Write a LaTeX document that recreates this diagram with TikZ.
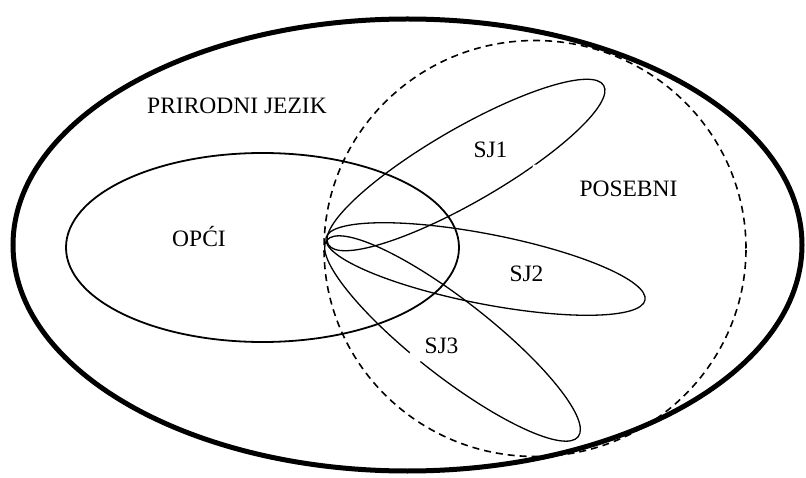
\documentclass[tikz,border=0pt]{standalone}
\usepackage{fontspec}
\setmainfont{Liberation Serif}
\begin{document}
\begin{tikzpicture}[x=1pt,y=1pt,
  lbl/.style={anchor=base,inner sep=0pt,font=\fontsize{23.5}{28}\selectfont},
  outerline/.style={line width=5pt},
  dashline/.style={line width=1.6pt,dash pattern=on 7pt off 5pt},
  setline/.style={line width=1.8pt},
  petal/.style={line width=1.3pt}]
\useasboundingbox (0,0) rectangle (806,477);
% outer ellipse: natural language
\draw[outerline] (407.5,232) ellipse [x radius=394.5, y radius=226];
% dashed: special
\draw[dashline] (535,228.5) ellipse [x radius=211, y radius=208];
% general
\draw[setline] (262.5,229.5) ellipse [x radius=196.5, y radius=94.5];
% petals
\draw[petal, rotate around={30:(466,312)}] (466,312) ellipse [x radius=159, y radius=37];
\draw[petal, rotate around={-11:(485.5,208)}] (485.5,208) ellipse [x radius=162.5, y radius=35];
\draw[petal, rotate around={-38:(452.5,138.5)}] (452.5,138.5) ellipse [x radius=159.5, y radius=38];
% gaps in outlines
\fill[white] (416,121) circle [radius=7];
\fill[white] (535,310) circle [radius=2.5];
% labels
\node[lbl] (pj) at (237,363) {PRIRODNI JEZIK};
\node[lbl] (opci) at (199,230) {OPĆI};
\node[lbl] (sj1) at (490.5,319) {SJ1};
\node[lbl] (pos) at (628.5,280) {POSEBNI};
\node[lbl] (sj2) at (526.5,195) {SJ2};
\node[lbl] (sj3) at (441.5,124) {SJ3};
\end{tikzpicture}
\end{document}
